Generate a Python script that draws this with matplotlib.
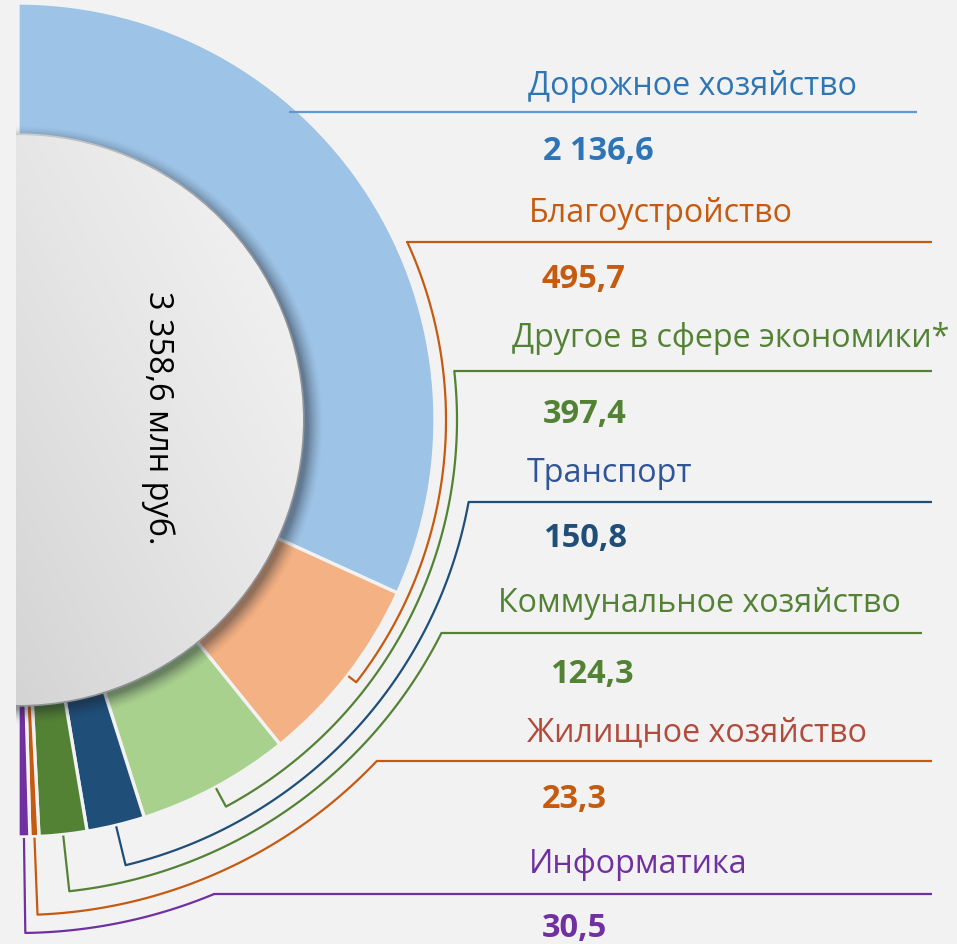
import numpy as np
import matplotlib
matplotlib.use("Agg")
import matplotlib.pyplot as plt
from matplotlib.patches import Circle
from matplotlib.colors import LinearSegmentedColormap

plt.rcParams['font.family'] = ['Open Sans', 'DejaVu Sans']

# ---------------- data ----------------
categories = ['Дорожное хозяйство', 'Благоустройство', 'Другое в сфере экономики*',
              'Транспорт', 'Коммунальное хозяйство', 'Жилищное хозяйство', 'Информатика']
values = [2136.6, 495.7, 397.4, 150.8, 124.3, 23.3, 30.5]
unit = 'млн руб.'

# ---------------- styles ----------------
wedge_colors = ['#9dc3e6', '#f4b183', '#a9d18e', '#1f4e79', '#548235', '#c55a11', '#7030a0']
name_colors = ['#2e75b6', '#c55a11', '#548235', '#2f5597', '#548235', '#b14b3c', '#7030a0']
value_colors = ['#2e75b6', '#c55a11', '#548235', '#1f4e79', '#548235', '#c55a11', '#7030a0']
line_colors = ['#5b9bd5', '#c55a11', '#548235', '#1f4e79', '#548235', '#c55a11', '#7030a0']
BG = '#f2f2f2'

# ---------------- layout (pixels, y from top) ----------------
W, H = 957, 944
cx, cy_pix = 18, 420
r_out, r_in = 417, 285
name_x = [528, 529, 512, 527, 498, 527, 529]
name_base = [95, 222, 347, 482, 612, 741, 873]
value_x = [543, 541, 543, 543, 550, 542, 542]
value_base = [160, 288, 423, 547, 683, 808, 937]
line_y = [112, 242, 371, 502, 633, 761, 894]
line_xend = [917, 932, 932, 932, 922, 932, 932]
arc_r = [410, 428, 439, 458, 474, 495, 513]


def fmt(v):
    return f"{v:,.1f}".replace(',', ' ').replace('.', ',')


def Y(y):
    return H - y


cy = Y(cy_pix)

fig = plt.figure(figsize=(W / 100, H / 100), dpi=100, facecolor=BG)
ax = fig.add_axes([0, 0, 1, 1])
ax.set_facecolor(BG)

total = sum(values)
wedges, _ = ax.pie(values + [total], radius=r_out, center=(cx, cy), startangle=90,
                   counterclock=False, colors=wedge_colors + ['none'],
                   wedgeprops=dict(width=r_out - r_in, edgecolor=BG, linewidth=2.4))
wedges[-1].set_visible(False)

# shadow of the inner disc
sx0, sx1, sy0, sy1 = 16, 340, cy - 330, cy + 320
gx, gy = np.meshgrid(np.linspace(sx0, sx1, 420), np.linspace(sy0, sy1, 800))
d = np.hypot(gx - (cx + 6), gy - (cy - 5))
t = np.clip((d - 284) / 16.0, 0, 1)
alpha = 0.45 * (1 - t) ** 1.5
rgba = np.zeros(gx.shape + (4,))
rgba[..., 0] = 0.10
rgba[..., 1] = 0.12
rgba[..., 2] = 0.16
rgba[..., 3] = alpha
ax.imshow(rgba, extent=(sx0, sx1, sy0, sy1), origin='lower', zorder=3, interpolation='bilinear')

# inner gradient disc
disc = Circle((cx, cy), r_in, transform=ax.transData, facecolor='none', edgecolor='none')
ax.add_patch(disc)
gx2, gy2 = np.meshgrid(np.linspace(0, 1, 300), np.linspace(0, 1, 600))
grad = 0.6 * gx2 + 0.6 * gy2
cmap = LinearSegmentedColormap.from_list('g', ['#d4d4d4', '#e6e6e6', '#f5f5f5'])
im = ax.imshow(grad, extent=(16, cx + r_in, cy - r_in, cy + r_in), origin='lower',
               cmap=cmap, zorder=4, interpolation='bilinear')
im.set_clip_path(disc)

ax.text(158, Y(418), f"{fmt(total)} {unit}", rotation=-90, ha='center', va='center',
        fontsize=23.4, color='black', zorder=6)

# labels and leader lines
for i, name in enumerate(categories):
    w = wedges[i]
    mid = np.deg2rad((w.theta1 + w.theta2) / 2)
    ly = Y(line_y[i])
    R = arc_r[i]
    a0 = np.arcsin((ly - cy) / R)
    xs = cx + np.sqrt(R ** 2 - (ly - cy) ** 2)
    px = [line_xend[i], xs]
    py = [ly, ly]
    if i > 0:
        ang = np.linspace(a0, mid, 120)
        px += list(cx + R * np.cos(ang))
        py += list(cy + R * np.sin(ang))
        px.append(cx + (r_out + 1) * np.cos(mid))
        py.append(cy + (r_out + 1) * np.sin(mid))
    ax.plot(px, py, color=line_colors[i], lw=1.6, solid_capstyle='butt', zorder=5)
    ax.text(name_x[i], Y(name_base[i]), name, color=name_colors[i], fontsize=23.2,
            ha='left', va='baseline', zorder=6)
    ax.text(value_x[i], Y(value_base[i]), fmt(values[i]), color=value_colors[i], fontsize=23.5,
            fontweight='bold', ha='left', va='baseline', zorder=6)

ax.set_xlim(0, W)
ax.set_ylim(0, H)
ax.set_aspect('equal')
ax.axis('off')
fig.savefig('out.png', dpi=100, facecolor=BG)
